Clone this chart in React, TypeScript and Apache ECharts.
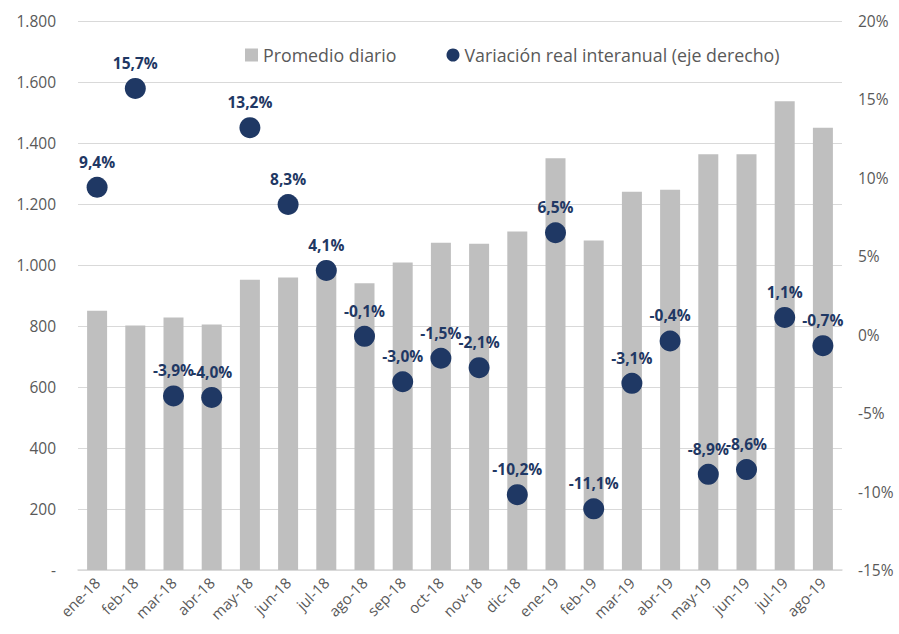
import React, { useEffect, useRef } from "react";
import * as echarts from "echarts";

const categories = ["ene-18","feb-18","mar-18","abr-18","may-18","jun-18","jul-18","ago-18","sep-18","oct-18","nov-18","dic-18","ene-19","feb-19","mar-19","abr-19","may-19","jun-19","jul-19","ago-19"];
const promedioDiario = [850, 802, 828, 805, 952, 959, 990, 940, 1008, 1073, 1070, 1110, 1350, 1080, 1240, 1247, 1363, 1363, 1537, 1450];
const variacion = [9.4, 15.7, -3.9, -4.0, 13.2, 8.3, 4.1, -0.1, -3.0, -1.5, -2.1, -10.2, 6.5, -11.1, -3.1, -0.4, -8.9, -8.6, 1.1, -0.7];

const FONT = "'Open Sans', Lato, sans-serif";

export default function App() {
  const ref = useRef<HTMLDivElement>(null);
  useEffect(() => {
    const chart = echarts.init(ref.current!, null, { renderer: "svg" });
    chart.setOption({
      animation: false,
      textStyle: { fontFamily: FONT },
      legend: {
        top: 41,
        left: 240,
        itemGap: 50,
        itemWidth: 13,
        itemHeight: 13,
        textStyle: { color: "#595959", fontSize: 17.8, fontFamily: FONT },
        data: [
          { name: "Promedio diario", icon: "rect" },
          { name: "Variación real interanual (eje derecho)", icon: "circle" },
        ],
      },
      grid: { left: 78, right: 57, top: 21, bottom: 64, containLabel: false },
      xAxis: {
        type: "category",
        data: categories,
        axisLine: { lineStyle: { color: "#d9d9d9", width: 1.5 } },
        axisTick: { show: false },
        axisLabel: { rotate: 45, color: "#595959", fontSize: 15, fontFamily: FONT, margin: 10 },
      },
      yAxis: [
        {
          type: "value",
          min: 0,
          max: 1800,
          interval: 200,
          axisLine: { show: false },
          axisTick: { show: false },
          splitLine: { lineStyle: { color: "#d9d9d9", width: 1 } },
          axisLabel: {
            color: "#595959",
            fontSize: 15.5,
            fontFamily: FONT,
            margin: 22,
            formatter: (v: number) => (v === 0 ? "-" : v >= 1000 ? Math.floor(v / 1000) + "." + String(v % 1000).padStart(3, "0") : String(v)),
          },
        },
        {
          type: "value",
          min: -15,
          max: 20,
          interval: 5,
          axisLine: { show: false },
          axisTick: { show: false },
          splitLine: { show: false },
          axisLabel: { color: "#595959", fontSize: 15.5, fontFamily: FONT, margin: 16, formatter: (v: number) => v + "%" },
        },
      ],
      series: [
        {
          name: "Promedio diario",
          type: "bar",
          yAxisIndex: 0,
          data: promedioDiario,
          barWidth: 20,
          itemStyle: { color: "#bfbfbf" },
        },
        {
          name: "Variación real interanual (eje derecho)",
          type: "scatter",
          yAxisIndex: 1,
          data: variacion,
          symbolSize: 21,
          itemStyle: { color: "#1f3864", opacity: 1 },
          z: 5,
          label: {
            show: true,
            position: "top",
            distance: 7,
            color: "#1f3864",
            fontWeight: "bold",
            fontSize: 15.5,
            fontFamily: FONT,
            formatter: (p: any) => p.value.toFixed(1).replace(".", ",") + "%",
          },
        },
      ],
    });
    return () => chart.dispose();
  }, []);
  return <div ref={ref} style={{ width: 899, height: 634, position: "absolute", left: 0, top: 0 }} />;
}
